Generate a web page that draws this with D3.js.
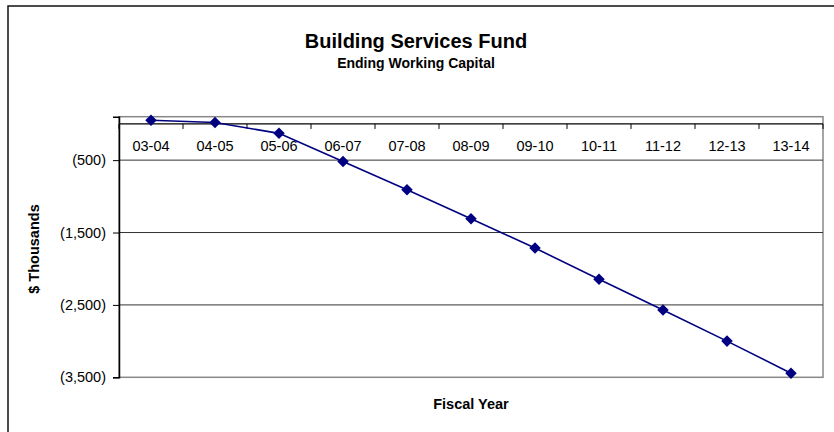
<!DOCTYPE html>
<html>
<head>
<meta charset="utf-8">
<script src="https://cdn.jsdelivr.net/npm/d3@7"></script>
<style>
  html, body { margin: 0; padding: 0; background: #fff; }
  svg { display: block; font-family: Arial, "Liberation Sans", sans-serif; }
</style>
</head>
<body>
<svg id="chart" width="834" height="432"></svg>
<script>
// Fiscal years and ending working capital ($ thousands)
const years = ["03-04", "04-05", "05-06", "06-07", "07-08", "08-09", "09-10", "10-11", "11-12", "12-13", "13-14"];
const capital = [50, 20, -130, -520, -910, -1310, -1715, -2145, -2570, -3000, -3445];
const yTicks = [-500, -1500, -2500, -3500];
const yMin = -3500, yMax = 100;

const svg = d3.select("#chart");
const W = 834, H = 432;
const plot = { left: 119, right: 823, top: 116.7, bottom: 377.3 };

// Outer chart frame
svg.append("rect")
  .attr("x", 8).attr("y", 6)
  .attr("width", W).attr("height", H)
  .attr("fill", "#fff").attr("stroke", "#111").attr("stroke-width", 1.5);

// Titles
svg.append("text").attr("x", 416).attr("y", 48)
  .attr("text-anchor", "middle").attr("font-weight", "bold").attr("font-size", 20)
  .text("Building Services Fund");
svg.append("text").attr("x", 416).attr("y", 68)
  .attr("text-anchor", "middle").attr("font-weight", "bold").attr("font-size", 14)
  .text("Ending Working Capital");

const x = d3.scaleBand().domain(years).range([plot.left, plot.right]).padding(0);
const y = d3.scaleLinear().domain([yMin, yMax]).range([plot.bottom, plot.top]);

// Plot area border
svg.append("rect")
  .attr("x", plot.left).attr("y", plot.top)
  .attr("width", plot.right - plot.left).attr("height", plot.bottom - plot.top)
  .attr("fill", "none").attr("stroke", "#888").attr("stroke-width", 1.5);

// Horizontal gridlines
svg.append("g").selectAll("line").data(yTicks.filter(v => v !== yMin)).join("line")
  .attr("x1", plot.left).attr("x2", plot.right)
  .attr("y1", d => y(d)).attr("y2", d => y(d))
  .attr("stroke", "#333").attr("stroke-width", 1);

// Value axis
const fmt = v => v < 0 ? "(" + d3.format(",")(-v) + ")" : d3.format(",")(v);
const yAxis = svg.append("g").attr("transform", `translate(${plot.left},0)`)
  .call(d3.axisLeft(y).tickValues(yTicks).tickFormat(fmt).tickSizeOuter(0).tickSize(6).tickPadding(7));
yAxis.select(".domain").attr("stroke", "#000").attr("stroke-width", 1.5);
yAxis.selectAll(".tick line").attr("stroke", "#000");
yAxis.selectAll("text").attr("font-size", 14.5).attr("fill", "#000").attr("font-family", "Arial, 'Liberation Sans', sans-serif");

// Category axis along zero
const zeroY = y(0);
const xAxisG = svg.append("g").attr("transform", `translate(0,${zeroY})`);
xAxisG.append("line").attr("x1", plot.left).attr("x2", plot.right)
  .attr("stroke", "#000").attr("stroke-width", 1.2);
const bounds = years.map(d => x(d)).concat([x(years[years.length - 1]) + x.bandwidth()]);
xAxisG.selectAll("line.tick").data(bounds).join("line").attr("class", "tick")
  .attr("x1", d => d).attr("x2", d => d).attr("y1", 0).attr("y2", 5)
  .attr("stroke", "#000");
xAxisG.selectAll("text").data(years).join("text")
  .attr("x", d => x(d) + x.bandwidth() / 2).attr("y", 27.5)
  .attr("text-anchor", "middle").attr("font-size", 14.5)
  .text(d => d);

// Axis titles
svg.append("text").attr("x", (plot.left + plot.right) / 2).attr("y", 409)
  .attr("text-anchor", "middle").attr("font-weight", "bold").attr("font-size", 14.5)
  .text("Fiscal Year");
svg.append("text").attr("transform", "translate(39,249) rotate(-90)")
  .attr("text-anchor", "middle").attr("font-weight", "bold").attr("font-size", 14.5)
  .text("$ Thousands");

// Series line and diamond markers
const line = d3.line().x((d, i) => x(years[i]) + x.bandwidth() / 2).y(d => y(d));
svg.append("path").datum(capital).attr("d", line)
  .attr("fill", "none").attr("stroke", "#000080").attr("stroke-width", 1.6);
svg.append("g").selectAll("path").data(capital).join("path")
  .attr("transform", (d, i) => `translate(${x(years[i]) + x.bandwidth() / 2},${y(d)})`)
  .attr("d", d3.symbol().type(d3.symbolDiamond2).size(85))
  .attr("fill", "#000080");
</script>
</body>
</html>
